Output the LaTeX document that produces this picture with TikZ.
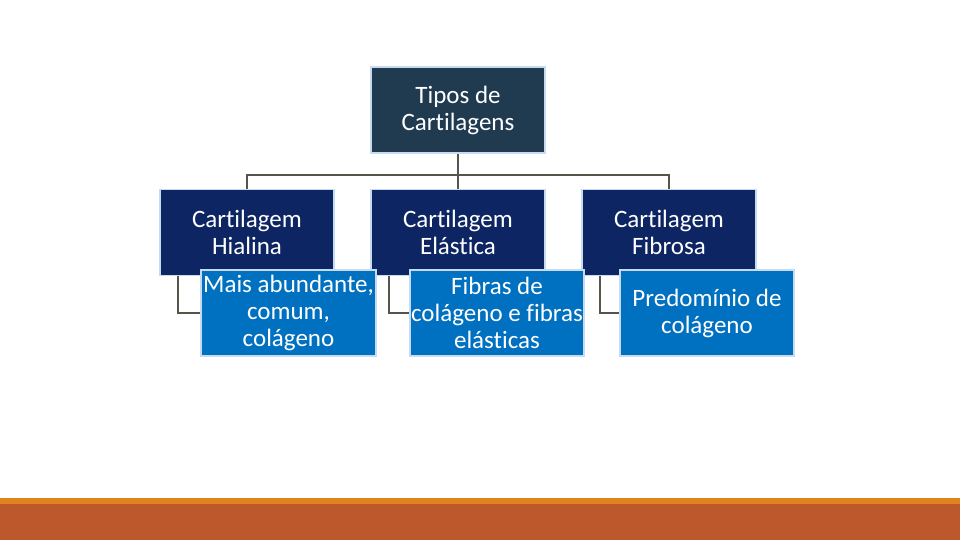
\documentclass[tikz,border=0pt]{standalone}
\usepackage{fontspec}
\setmainfont{Carlito}[Ligatures=CommonOff]
\definecolor{rootfill}{HTML}{203A50}
\definecolor{catfill}{HTML}{0D2562}
\definecolor{descfill}{HTML}{0070C0}
\definecolor{edgeblue}{HTML}{C6DAF0}
\definecolor{linkgray}{HTML}{55554B}
\definecolor{barorange}{HTML}{E0821E}
\definecolor{barrust}{HTML}{BD582C}
\begin{document}
\begin{tikzpicture}[x=1pt, y=-1pt,
  every node/.style={font=\fontsize{25}{27}\selectfont, text=white, align=center, inner sep=0pt},
  box/.style={draw=edgeblue, line width=1.5pt, minimum width=174pt, minimum height=86pt},
  rootbox/.style={box, fill=rootfill},
  catbox/.style={box, fill=catfill},
  descbox/.style={box, fill=descfill},
  link/.style={draw=linkgray, line width=2pt}]
  \useasboundingbox (0,0) rectangle (960,540);
  % top level
  \node[rootbox] (tipos) at (458,110) {Tipos de\\Cartilagens};
  \coordinate (bus) at (458,175);
  % types
  \node[catbox] (hialina) at (247,232.5) {Cartilagem\\Hialina};
  \node[catbox] (elastica) at (458,232.5) {Cartilagem\\Elástica};
  \node[catbox] (fibrosa) at (669,232.5) {Cartilagem\\Fibrosa};
  \draw[link] (tipos.south) -- (bus);
  \draw[link] (bus) -| (hialina.north);
  \draw[link] (bus) -| (fibrosa.north);
  \draw[link] (bus) -- (elastica.north);
  % descriptions
  \node[descbox, minimum width=175pt] (dhialina) at (288.5,313) {Mais abundante,\\comum,\\colágeno};
  \node[descbox] (delastica) at (497,313) {Fibras de\\colágeno e fibras\\elásticas};
  \node[descbox] (dfibrosa) at (707,313) {Predomínio de\\colágeno};
  \draw[link] ([xshift=-69pt]hialina.south) |- (dhialina.west);
  \draw[link] ([xshift=-69pt]elastica.south) |- (delastica.west);
  \draw[link] ([xshift=-69pt]fibrosa.south) |- (dfibrosa.west);
  % bottom bars
  \fill[barorange] (0,498) rectangle (960,504);
  \fill[barrust] (0,504) rectangle (960,540);
\end{tikzpicture}
\end{document}
